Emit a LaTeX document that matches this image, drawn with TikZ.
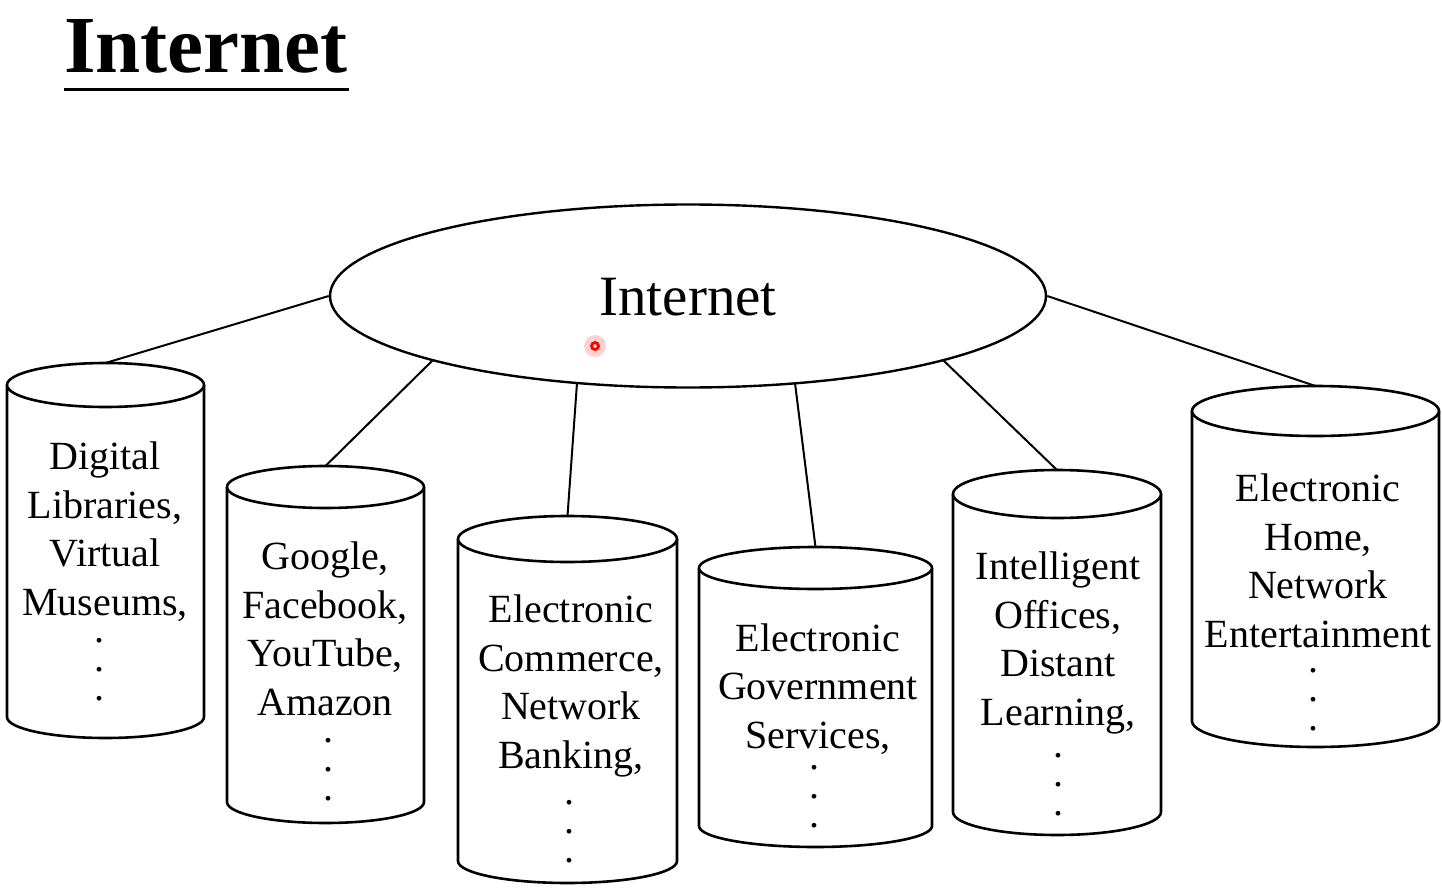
\documentclass[tikz,border=0pt]{standalone}
\usepackage{fontspec}
\setmainfont{Liberation Serif}
\usetikzlibrary{shapes.geometric}
\tikzset{
  cylline/.style={line width=1.3pt, draw=black, fill=white},
  conn/.style={line width=1pt, draw=black},
  cyltext/.style={align=center, anchor=base, inner sep=0pt, font=\fontsize{20}{24.25}\selectfont},
  dotstext/.style={align=center, anchor=base, inner sep=0pt, font=\fontsize{20}{14.5}\selectfont},
}
\newcommand{\mycyl}[7]{%
  \pgfmathsetmacro\cylcx{(#1+#2)/2}%
  \pgfmathsetmacro\cylrx{(#2-#1)/2}%
  \pgfmathsetmacro\cyltop{#3-#4}%
  \draw[cylline] (#1,#3) -- (#1,#5) arc[start angle=180,end angle=0,x radius=\cylrx,y radius=#6] -- (#2,#3);
  \draw[cylline] (\cylcx,#3) ellipse[x radius=\cylrx,y radius=#4];
  \coordinate (#7) at (\cylcx,\cyltop);
}
\begin{document}
\begin{tikzpicture}[x=0.5pt,y=-0.5pt]
\useasboundingbox (0,0) rectangle (1442,894);
\fill[white] (0,0) rectangle (1442,894);

% title
\node[anchor=base west, inner sep=0pt, font=\fontsize{40.5}{44}\selectfont\bfseries] (title) at (64,72) {Internet};
\draw[line width=1.5pt] (title.base west |- 0,89) coordinate (ul1) -- (349,89) coordinate (ul2);

% central ellipse
\node[ellipse, draw, line width=1.2pt, minimum width=358pt, minimum height=91.5pt, inner sep=0pt] (net) at (688,296) {};
\node[anchor=base, inner sep=0pt, font=\fontsize{28.5}{32}\selectfont] (netlabel) at (688,315) {Internet};

% attachment points on ellipse
\coordinate (e1) at (net.west);
\coordinate (e2) at (433,360);
\coordinate (e3) at (577,383);
\coordinate (e4) at (795,383);
\coordinate (e5) at (943,360);
\coordinate (e6) at (net.east);

% cylinders
\mycyl{7}{204}{385}{22}{717}{21}{c1}
\mycyl{227}{424}{487}{21}{802}{21}{c2}
\mycyl{458}{677}{539}{23}{861}{22}{c3}
\mycyl{699}{932}{568}{21}{826}{21}{c4}
\mycyl{953}{1161}{494}{24}{812}{23}{c5}
\mycyl{1192}{1439}{411}{25}{721}{26}{c6}

% connectors
\draw[conn] (e1) -- (c1);
\draw[conn] (e2) -- (c2);
\draw[conn] (e3) -- (c3);
\draw[conn] (e4) -- (c4);
\draw[conn] (e5) -- (c5);
\draw[conn] (e6) -- (c6);

% texts (anchor = baseline of last line)
\node[cyltext] (t1) at (105,615) {Digital\\Libraries,\\Virtual\\Museums,};
\node[dotstext] (d1) at (99,700) {.\\.\\.};
\node[cyltext] (t2) at (325,715) {Google,\\Facebook,\\YouTube,\\Amazon};
\node[dotstext] (d2) at (328,800) {.\\.\\.};
\node[cyltext] (t3) at (571,768) {Electronic\\Commerce,\\Network\\Banking,};
\node[dotstext] (d3) at (569,862) {.\\.\\.};
\node[cyltext] (t4) at (818,748) {Electronic\\Government\\Services,};
\node[dotstext] (d4) at (814,827) {.\\.\\.};
\node[cyltext] (t5) at (1058,725) {Intelligent\\Offices,\\Distant\\Learning,};
\node[dotstext] (d5) at (1058,815) {.\\.\\.};
\node[cyltext] (t6) at (1318,647) {Electronic\\Home,\\Network\\Entertainment};
\node[dotstext] (d6) at (1313,730) {.\\.\\.};

% pointer mark
\fill[red!35, opacity=0.5] (595,346) circle[radius=11];
\draw[red, line width=1.4pt, fill=red!15] (595,346) circle[radius=3.5];
\end{tikzpicture}
\end{document}
